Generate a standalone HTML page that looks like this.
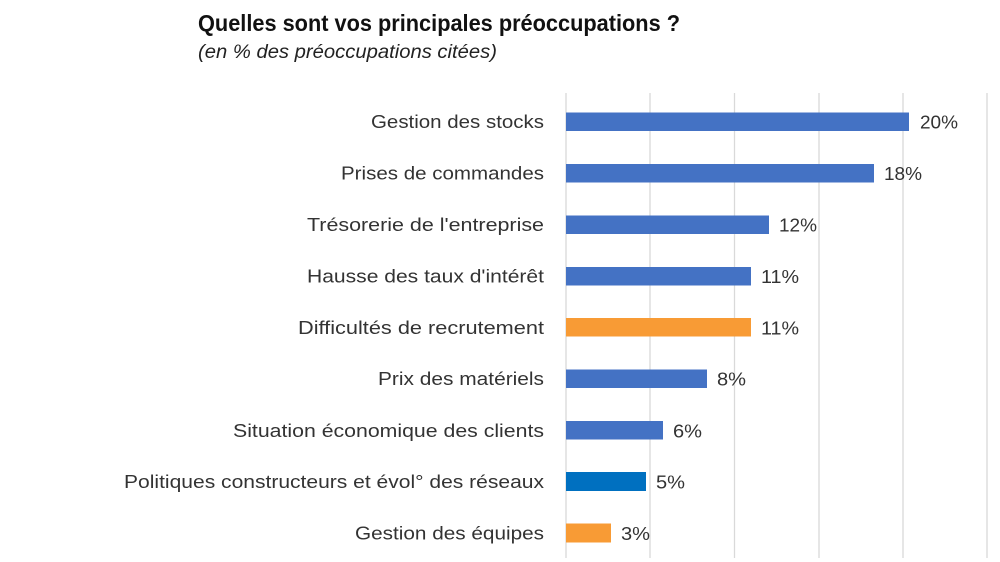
<!DOCTYPE html>
<html>
<head>
<meta charset="utf-8">
<style>
  html,body{margin:0;padding:0;background:#fff;}
  svg{display:block;}
  text{font-family:"Liberation Sans",sans-serif;}
</style>
</head>
<body>
<svg width="1000" height="562" viewBox="0 0 1000 562" xmlns="http://www.w3.org/2000/svg">
  <rect width="1000" height="562" fill="#fff"/>
  <!-- title -->
  <text x="198" y="31" font-size="23" font-weight="bold" fill="#111" textLength="482" lengthAdjust="spacingAndGlyphs">Quelles sont vos principales préoccupations ?</text>
  <text x="198" y="58" font-size="19" font-style="italic" fill="#222" textLength="299" lengthAdjust="spacingAndGlyphs">(en % des préoccupations citées)</text>

  <!-- gridlines -->
  <g stroke="#d9d9d9" stroke-width="1.3">
    <line x1="566" y1="93" x2="566" y2="558"/>
    <line x1="650" y1="93" x2="650" y2="558"/>
    <line x1="734.5" y1="93" x2="734.5" y2="558"/>
    <line x1="819" y1="93" x2="819" y2="558"/>
    <line x1="903" y1="93" x2="903" y2="558"/>
    <line x1="987" y1="93" x2="987" y2="558"/>
  </g>

  <!-- bars -->
  <rect x="566" y="112.5" width="343" height="18.5" fill="#4472C4"/>
  <rect x="566" y="164" width="308" height="18.5" fill="#4472C4"/>
  <rect x="566" y="215.5" width="203" height="18.5" fill="#4472C4"/>
  <rect x="566" y="267" width="185" height="18.5" fill="#4472C4"/>
  <rect x="566" y="318" width="185" height="18.5" fill="#F89B35"/>
  <rect x="566" y="369.5" width="141" height="18.5" fill="#4472C4"/>
  <rect x="566" y="421" width="97" height="18.5" fill="#4472C4"/>
  <rect x="566" y="472" width="80" height="19" fill="#0070C0"/>
  <rect x="566" y="523.5" width="45" height="19" fill="#F89B35"/>

  <!-- category labels -->
  <g font-size="18" fill="#333" text-anchor="end">
    <text x="544" y="128" textLength="173" lengthAdjust="spacingAndGlyphs">Gestion des stocks</text>
    <text x="544" y="179.5" textLength="203" lengthAdjust="spacingAndGlyphs">Prises de commandes</text>
    <text x="544" y="231" textLength="237" lengthAdjust="spacingAndGlyphs">Trésorerie de l'entreprise</text>
    <text x="544" y="282.5" textLength="237" lengthAdjust="spacingAndGlyphs">Hausse des taux d'intérêt</text>
    <text x="544" y="334" textLength="246" lengthAdjust="spacingAndGlyphs">Difficultés de recrutement</text>
    <text x="544" y="385" textLength="166" lengthAdjust="spacingAndGlyphs">Prix des matériels</text>
    <text x="544" y="437" textLength="311" lengthAdjust="spacingAndGlyphs">Situation économique des clients</text>
    <text x="544" y="488" textLength="420" lengthAdjust="spacingAndGlyphs">Politiques constructeurs et évol° des réseaux</text>
    <text x="544" y="539.5" textLength="189" lengthAdjust="spacingAndGlyphs">Gestion des équipes</text>
  </g>

  <!-- value labels -->
  <g font-size="18" fill="#333">
    <text x="920" y="128.5" textLength="38" lengthAdjust="spacingAndGlyphs">20%</text>
    <text x="884" y="180" textLength="38" lengthAdjust="spacingAndGlyphs">18%</text>
    <text x="779" y="231.5" textLength="38" lengthAdjust="spacingAndGlyphs">12%</text>
    <text x="761" y="283" textLength="38" lengthAdjust="spacingAndGlyphs">11%</text>
    <text x="761" y="334.5" textLength="38" lengthAdjust="spacingAndGlyphs">11%</text>
    <text x="717" y="385.5" textLength="29" lengthAdjust="spacingAndGlyphs">8%</text>
    <text x="673" y="437.5" textLength="29" lengthAdjust="spacingAndGlyphs">6%</text>
    <text x="656" y="488.5" textLength="29" lengthAdjust="spacingAndGlyphs">5%</text>
    <text x="621" y="540" textLength="29" lengthAdjust="spacingAndGlyphs">3%</text>
  </g>
</svg>
</body>
</html>
